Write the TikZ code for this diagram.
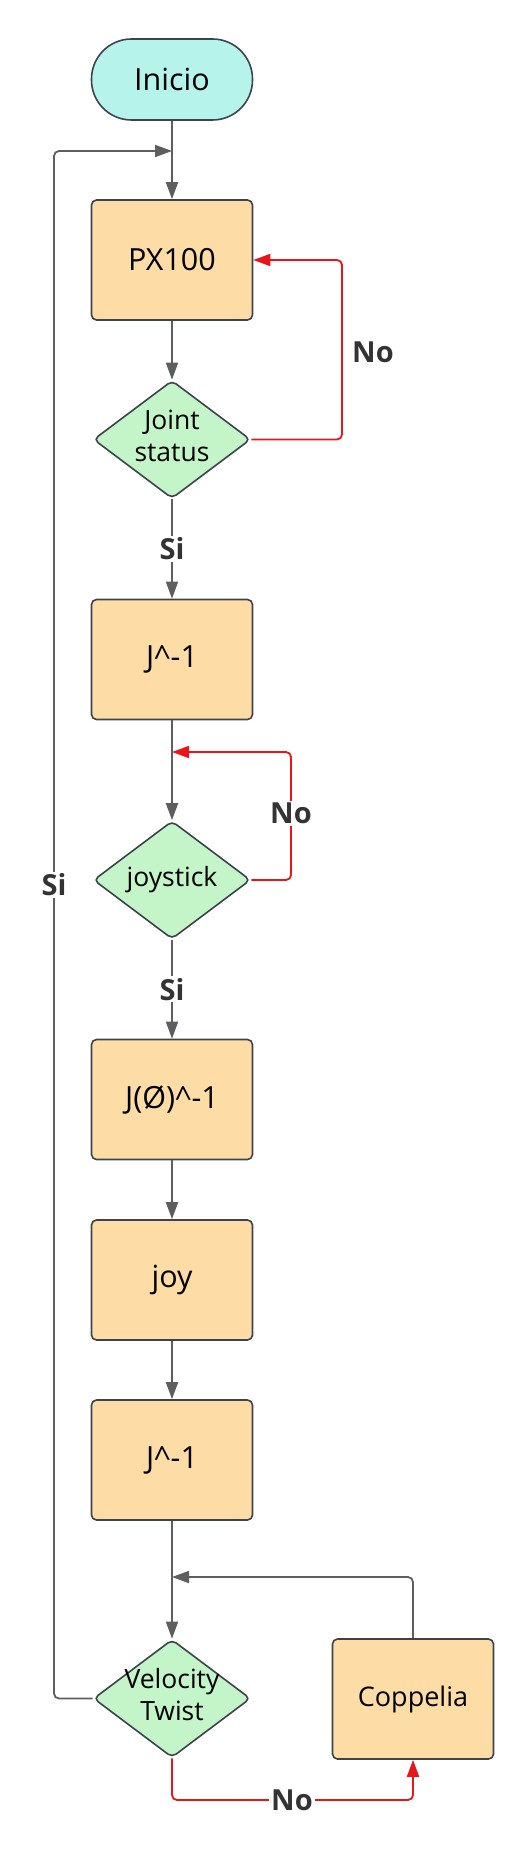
\documentclass[tikz,border=0pt]{standalone}
\usepackage{fontspec}
\setmainfont{Open Sans}
\usetikzlibrary{shapes.geometric,arrows.meta}
\definecolor{bord}{HTML}{3D434D}
\definecolor{cyanfill}{HTML}{B5F3EB}
\definecolor{boxfill}{HTML}{FDDCA6}
\definecolor{decfill}{HTML}{C3F5C8}
\definecolor{conn}{HTML}{5E5E5E}
\definecolor{redc}{HTML}{E8161A}
\definecolor{lbl}{HTML}{333333}
\newcommand{\zw}[1]{\makebox[0pt][c]{\begin{tabular}{@{}c@{}}#1\end{tabular}}}
\begin{document}
\begin{tikzpicture}[x=1pt,y=-1pt,
 term/.style={draw=bord, line width=1.6pt, fill=cyanfill, rounded corners=40pt, minimum width=161pt, minimum height=81pt, inner sep=0pt, font=\fontsize{30.5}{36}\selectfont},
 proc/.style={draw=bord, line width=1.6pt, fill=boxfill, rounded corners=5pt, minimum width=161pt, minimum height=120pt, inner sep=0pt, font=\fontsize{30.5}{36}\selectfont},
 dec/.style={diamond, draw=bord, line width=1.6pt, fill=decfill, rounded corners=5pt, minimum width=157pt, minimum height=118pt, inner sep=0pt, font=\fontsize{26.5}{32}\selectfont},
 flow/.style={draw=conn, line width=1.8pt, -{Triangle[length=17pt,width=12pt]}},
 noflow/.style={draw=redc, line width=1.8pt, rounded corners=5pt, -{Triangle[length=17pt,width=12pt]}},
 lab/.style={fill=white, text=lbl, font=\bfseries\fontsize{29}{32}\selectfont, inner sep=2pt}
]
\useasboundingbox (0,0) rectangle (532,1859);

\node[term] (ini) at (172,79.5) {Inicio};
\node[proc] (px) at (172,260) {PX100};
\node[dec] (d1) at (172,439.5) {\zw{Joint\\status}};
\node[proc] (j1) at (172,659.5) {J\textasciicircum-1};
\node[dec] (d2) at (172,880) {\zw{joystick}};
\node[proc] (j2) at (172,1099.5) {J(Ø)\textasciicircum-1};
\node[proc] (joy) at (172,1280) {joy};
\node[proc] (j3) at (172,1460) {J\textasciicircum-1};
\node[dec] (vt) at (172,1698.5) {\zw{Velocity\\Twist}};
\node[proc, font=\fontsize{27}{32}\selectfont] (cop) at (413,1699) {Coppelia};

\coordinate (jin) at (172,151);
\coordinate (jd2) at (172,752);
\coordinate (jv) at (172,1577);

\draw[flow] (ini) -- (px);
\draw[flow] (px) -- (d1);
\draw[flow] (d1) -- node[lab] (si1) {Si} (j1);
\draw[flow] (j1) -- (d2);
\draw[flow] (d2) -- node[lab] (si2) {Si} (j2);
\draw[flow] (j2) -- (joy);
\draw[flow] (joy) -- (j3);
\draw[flow] (j3) -- (vt);

\draw[noflow] (d1.east) -- (342,439.5) -- (342,260) -- (px.east);
\node[lab, fill=none, anchor=west] (no1) at (350,352) {No};

\draw[noflow] (d2.east) -- (291,880) -- (291,752) -- (jd2);
\node[lab] (no2) at (291,813) {No};

\draw[flow, rounded corners=5pt] (vt.west) -- (54,1698.5) -- (54,151) -- (jin);
\node[lab] (si3) at (54,885) {Si};

\draw[flow, rounded corners=5pt] (cop.north) -- (413,1577) -- (jv);

\draw[noflow] (vt.south) -- (172,1800) -- (413,1800) -- (cop.south);
\node[lab] (no3) at (292,1800) {No};
\end{tikzpicture}
\end{document}
